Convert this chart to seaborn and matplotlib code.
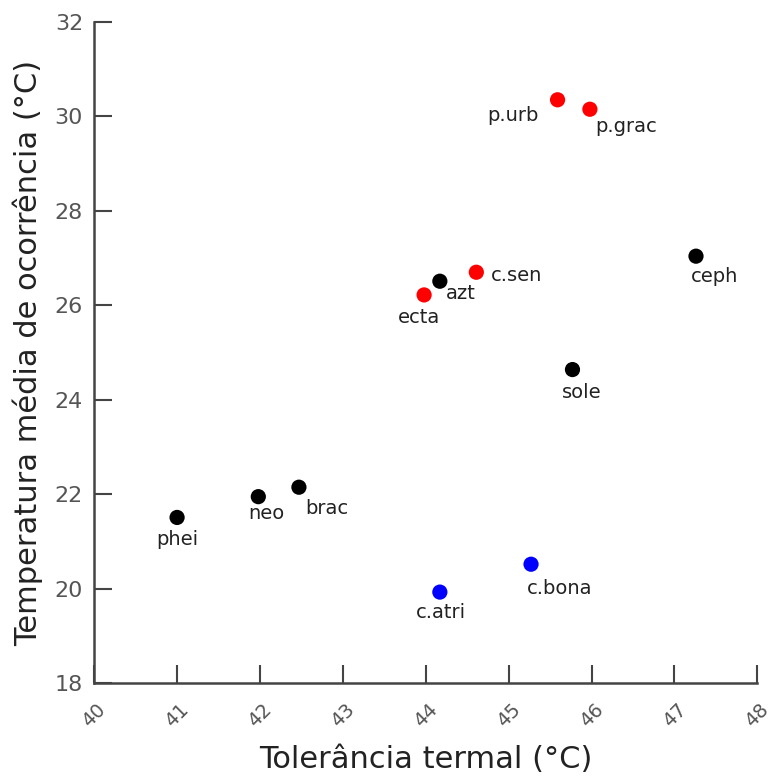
import pandas as pd
import matplotlib
matplotlib.use("Agg")
import matplotlib.pyplot as plt
import seaborn as sns

# data
species = ["phei", "neo", "brac", "azt", "ecta", "c.sen", "p.urb", "p.grac",
           "ceph", "sole", "c.bona", "c.atri"]
tolerance = [41.0, 41.98, 42.47, 44.17, 43.98, 44.61, 45.59, 45.98,
             47.26, 45.77, 45.27, 44.17]
mean_temp = [21.51, 21.95, 22.15, 26.51, 26.22, 26.70, 30.35, 30.15,
             27.04, 24.64, 20.52, 19.93]
group = ["black", "black", "black", "black", "red", "red", "red", "red",
         "black", "black", "blue", "blue"]

# label offsets in pixels (x, y) from each point
label_offsets = [(0, -22), (8, -17), (28, -21), (21, -12), (-5, -23), (40, -3),
                 (-45, -16), (36, -17), (19, -20), (9, -23), (29, -24), (1, -20)]

df = pd.DataFrame({"species": species, "tol": tolerance,
                   "temp": mean_temp, "group": group})

sns.set_style("ticks")
plt.rcParams['font.family'] = ['DejaVu Sans']
plt.rcParams['xtick.direction'] = 'in'
plt.rcParams['ytick.direction'] = 'in'

fig = plt.figure(figsize=(7.72, 7.80), dpi=100)
ax = fig.add_axes([0.122, 0.124, 0.859, 0.848])

palette = {"black": "#000000", "red": "#ff0000", "blue": "#0000ff"}
sns.scatterplot(data=df, x="tol", y="temp", hue="group", palette=palette,
                s=120, edgecolor="none", legend=False, ax=ax, zorder=3)

for name, x, y, off in zip(species, tolerance, mean_temp, label_offsets):
    ax.annotate(name, (x, y), xytext=off, textcoords="offset pixels",
                ha="center", va="center", fontsize=14, color="#222222")

ax.set_xlim(40, 48)
ax.set_ylim(18, 32)
ax.set_xticks(range(40, 49))
ax.set_yticks(range(18, 33, 2))

for lab in ax.get_xticklabels():
    lab.set_rotation(45)
    lab.set_ha("center")

ax.tick_params(direction="in", length=13, width=1.5, color="#444444",
               labelsize=16, labelcolor="#555555", pad=8)
ax.tick_params(axis="x", pad=12, labelsize=14)
for side in ["top", "right"]:
    ax.spines[side].set_visible(False)
for side in ["left", "bottom"]:
    ax.spines[side].set_linewidth(1.8)
    ax.spines[side].set_color("#444444")

ax.set_xlabel("Tolerância termal (°C)", fontsize=22, color="#222222", labelpad=10)
ax.set_ylabel("Temperatura média de ocorrência (°C)", fontsize=22,
              color="#222222", labelpad=8)

fig.savefig("out.png", dpi=100)
